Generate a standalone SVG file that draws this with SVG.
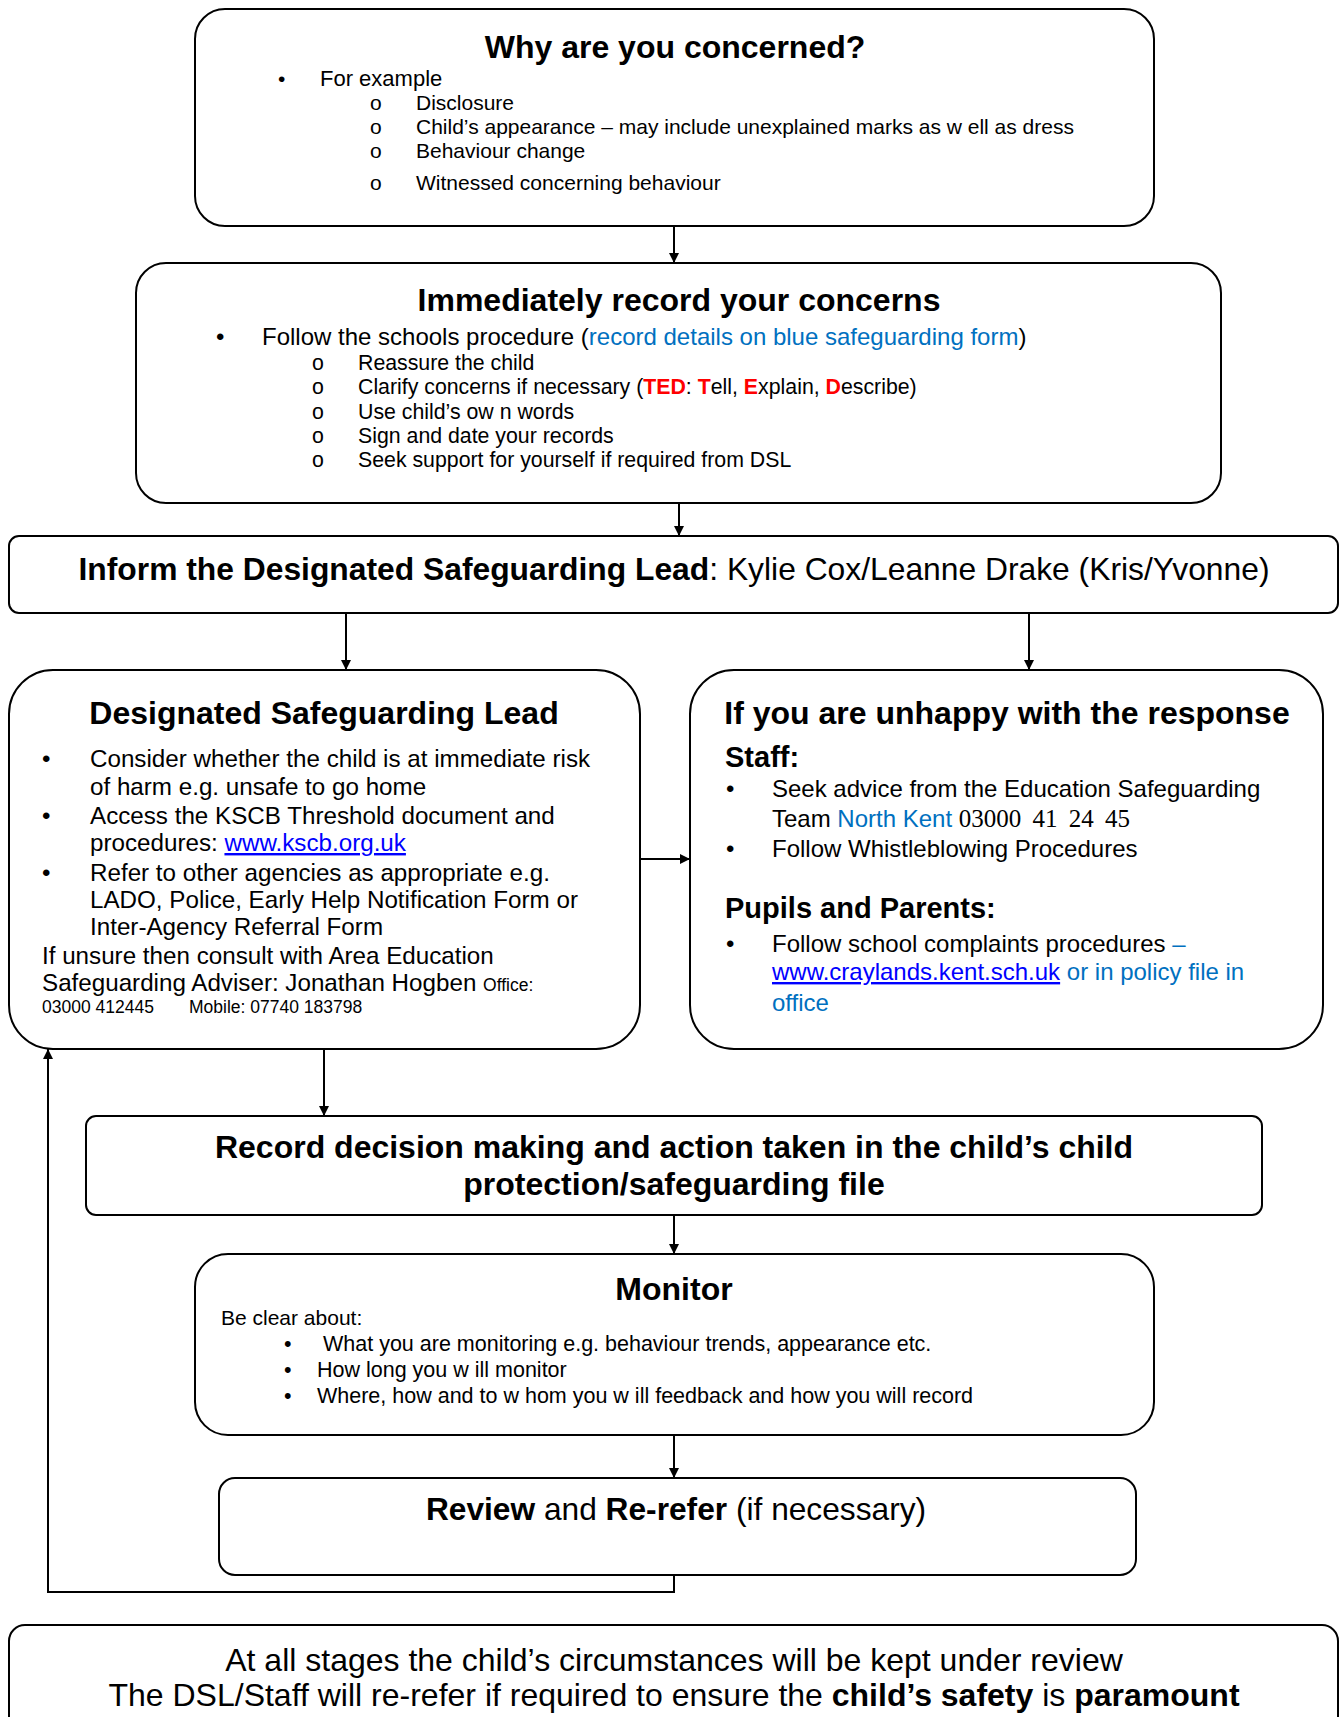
<svg xmlns="http://www.w3.org/2000/svg" width="1340" height="1717" viewBox="0 0 1340 1717">
<style>
.box{fill:#fff;stroke:#000;stroke-width:2}
text{font-family:"Liberation Sans",Arial,sans-serif;fill:#000}
.t{font-weight:bold;font-size:32px;text-anchor:middle}
.b{font-weight:bold}
.blue{fill:#0070C0}
.link{fill:#0000FF;text-decoration:underline}
.red{fill:#FF0000;font-weight:bold}
.ser{font-family:"Liberation Serif","Times New Roman",serif}
.con{fill:none;stroke:#000;stroke-width:2}
</style>
<defs>
<marker id="ah" markerUnits="userSpaceOnUse" markerWidth="11" markerHeight="10" refX="10" refY="5" orient="auto">
<path d="M0,0 L10,5 L0,10 z" fill="#000"/>
</marker>
</defs>
<rect width="1340" height="1717" fill="#fff"/>

<g id="connectors">
<path class="con" d="M674 226 V263" marker-end="url(#ah)"/>
<path class="con" d="M679 503 V536" marker-end="url(#ah)"/>
<path class="con" d="M346 613 V670" marker-end="url(#ah)"/>
<path class="con" d="M1029 613 V670" marker-end="url(#ah)"/>
<path class="con" d="M640 859 H690" marker-end="url(#ah)"/>
<path class="con" d="M324 1049 V1116" marker-end="url(#ah)"/>
<path class="con" d="M674 1215 V1254" marker-end="url(#ah)"/>
<path class="con" d="M674 1435 V1478" marker-end="url(#ah)"/>
<path class="con" d="M674 1575 V1592 H48 V1049" marker-end="url(#ah)"/>
</g>

<g id="why">
<rect class="box" x="195" y="9" width="959" height="217" rx="30"/>
<text class="t" x="675" y="58">Why are you concerned?</text>
<g font-size="21">
<text x="278" y="86">•</text>
<text x="320" y="86" font-size="22">For example</text>
<text x="370" y="110">o</text><text x="416" y="110">Disclosure</text>
<text x="370" y="134">o</text><text x="416" y="134">Child’s appearance – may include unexplained marks as w ell as dress</text>
<text x="370" y="158">o</text><text x="416" y="158">Behaviour change</text>
<text x="370" y="190">o</text><text x="416" y="190">Witnessed concerning behaviour</text>
</g>
</g>

<g id="record">
<rect class="box" x="136" y="263" width="1085" height="240" rx="30"/>
<text class="t" x="679" y="311">Immediately record your concerns</text>
<text x="216" y="345" font-size="24">•</text>
<text x="262" y="345" font-size="24">Follow the schools procedure (<tspan class="blue">record details on blue safeguarding form</tspan>)</text>
<g font-size="21.3">
<text x="312" y="370">o</text><text x="358" y="370">Reassure the child</text>
<text x="312" y="394">o</text><text x="358" y="394">Clarify concerns if necessary (<tspan class="red">TED</tspan>: <tspan class="red">T</tspan>ell, <tspan class="red">E</tspan>xplain, <tspan class="red">D</tspan>escribe)</text>
<text x="312" y="419">o</text><text x="358" y="419">Use child’s ow n words</text>
<text x="312" y="443">o</text><text x="358" y="443">Sign and date your records</text>
<text x="312" y="467">o</text><text x="358" y="467">Seek support for yourself if required from DSL</text>
</g>
</g>

<g id="inform">
<rect class="box" x="9" y="536" width="1329" height="77" rx="10"/>
<text x="674" y="580" font-size="31.8" text-anchor="middle"><tspan class="b">Inform the Designated Safeguarding Lead</tspan>: Kylie Cox/Leanne Drake (Kris/Yvonne)</text>
</g>

<g id="dsl">
<rect class="box" x="9" y="670" width="631" height="379" rx="44"/>
<text class="t" x="324" y="724" font-size="31">Designated Safeguarding Lead</text>
<g font-size="24.2">
<text x="42" y="767">•</text><text x="90" y="767">Consider whether the child is at immediate risk</text>
<text x="90" y="795">of harm e.g. unsafe to go home</text>
<text x="42" y="824">•</text><text x="90" y="824">Access the KSCB Threshold document and</text>
<text x="90" y="851">procedures: <tspan class="link">www.kscb.org.uk</tspan></text>
<text x="42" y="881">•</text><text x="90" y="881">Refer to other agencies as appropriate e.g.</text>
<text x="90" y="908">LADO, Police, Early Help Notification Form or</text>
<text x="90" y="935">Inter-Agency Referral Form</text>
<text x="42" y="964">If unsure then consult with Area Education</text>
<text x="42" y="991">Safeguarding Adviser: Jonathan Hogben <tspan font-size="17.5">Office:</tspan></text>
</g>
<text x="42" y="1013" font-size="17.5">03000  412445</text>
<text x="189" y="1013" font-size="17.5">Mobile: 07740  183798</text>
</g>

<g id="unhappy">
<rect class="box" x="690" y="670" width="633" height="379" rx="44"/>
<text class="t" x="1007" y="724">If you are unhappy with the response</text>
<text class="b" x="725" y="767" font-size="29">Staff:</text>
<g font-size="24">
<text x="726" y="797">•</text><text x="772" y="797">Seek advice from the Education Safeguarding</text>
<text x="772" y="827">Team <tspan class="blue">North Kent</tspan> <tspan class="ser" font-size="25" word-spacing="5">03000 41 24 45</tspan></text>
<text x="726" y="857">•</text><text x="772" y="857">Follow Whistleblowing Procedures</text>
<text class="b" x="725" y="918" font-size="29">Pupils and Parents:</text>
<text x="726" y="952">•</text><text x="772" y="952">Follow school complaints procedures <tspan class="blue">–</tspan></text>
<text x="772" y="980"><tspan class="link">www.craylands.kent.sch.uk</tspan><tspan class="blue"> or in policy file in</tspan></text>
<text x="772" y="1011" class="blue">office</text>
</g>
</g>

<g id="decision">
<rect class="box" x="86" y="1116" width="1176" height="99" rx="10"/>
<text class="t" x="674" y="1158" font-size="31">Record decision making and action taken in the child’s child</text>
<text class="t" x="674" y="1195" font-size="31">protection/safeguarding file</text>
</g>

<g id="monitor">
<rect class="box" x="195" y="1254" width="959" height="181" rx="33"/>
<text class="t" x="674" y="1300">Monitor</text>
<text x="221" y="1325" font-size="21">Be clear about:</text>
<g font-size="21.5">
<text x="284" y="1351">•</text><text x="323" y="1351">What you are monitoring e.g. behaviour trends, appearance etc.</text>
<text x="284" y="1377">•</text><text x="317" y="1377">How long you w ill monitor</text>
<text x="284" y="1403">•</text><text x="317" y="1403">Where, how and to w hom you w ill feedback and how you will record</text>
</g>
</g>

<g id="review">
<rect class="box" x="219" y="1478" width="917" height="97" rx="16"/>
<text x="676" y="1520" font-size="31.7" text-anchor="middle"><tspan class="b">Review</tspan> and <tspan class="b">Re-refer</tspan> (if necessary)</text>
</g>

<g id="footer">
<rect class="box" x="9" y="1625" width="1329" height="130" rx="16"/>
<text x="674" y="1671" font-size="32" text-anchor="middle">At all stages the child’s circumstances will be kept under review</text>
<text x="674" y="1706" font-size="32" text-anchor="middle">The DSL/Staff will re-refer if required to ensure the <tspan class="b">child’s safety</tspan> is <tspan class="b">paramount</tspan></text>
</g>
</svg>
